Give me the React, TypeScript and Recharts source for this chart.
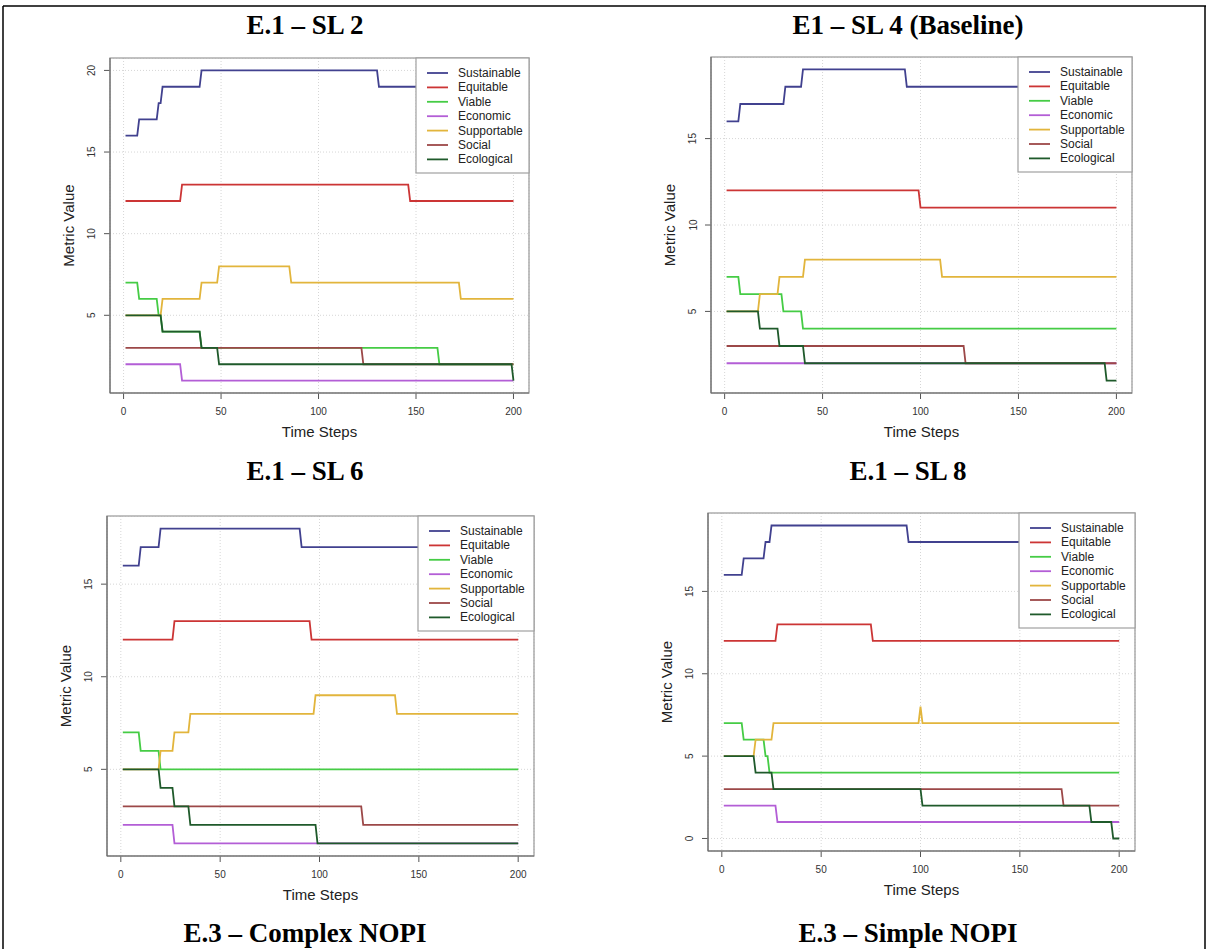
import React from "react";
import { LineChart, Line, XAxis, YAxis, CartesianGrid } from "recharts";

// [from step, to step, value] – a flat run of the metric
type Run = [number, number, number];

const SERIES = ["Sustainable", "Equitable", "Viable", "Economic", "Supportable", "Social", "Ecological"];
const COLORS = ["#41418f", "#cc3535", "#45cc45", "#b35ed6", "#e2b53c", "#9c4848", "#1f5a2b"];

const TIME_TICKS = [0, 50, 100, 150, 200];
const TIME_RANGE = [1, 200];

// ── E.1 – SL 2 ─────────────────────────────────────────────────────────────
const SL2_TICKS = [5, 10, 15, 20];
const SL2_SUSTAINABLE: Run[] = [[1, 7, 16], [8, 17, 17], [18, 19, 18], [20, 39, 19], [40, 130, 20], [131, 200, 19]];
const SL2_EQUITABLE: Run[] = [[1, 29, 12], [30, 146, 13], [147, 200, 12]];
const SL2_VIABLE: Run[] = [[1, 7, 7], [8, 17, 6], [18, 19, 5], [20, 39, 4], [40, 161, 3], [162, 200, 2]];
const SL2_ECONOMIC: Run[] = [[1, 29, 2], [30, 200, 1]];
const SL2_SUPPORTABLE: Run[] = [[1, 19, 5], [20, 39, 6], [40, 48, 7], [49, 85, 8], [86, 172, 7], [173, 200, 6]];
const SL2_SOCIAL: Run[] = [[1, 122, 3], [123, 200, 2]];
const SL2_ECOLOGICAL: Run[] = [[1, 19, 5], [20, 39, 4], [40, 48, 3], [49, 199, 2], [200, 200, 1]];

// ── E1 – SL 4 (Baseline) ───────────────────────────────────────────────────
const SL4_TICKS = [5, 10, 15];
const SL4_SUSTAINABLE: Run[] = [[1, 7, 16], [8, 30, 17], [31, 39, 18], [40, 92, 19], [93, 200, 18]];
const SL4_EQUITABLE: Run[] = [[1, 99, 12], [100, 200, 11]];
const SL4_VIABLE: Run[] = [[1, 7, 7], [8, 29, 6], [30, 39, 5], [40, 200, 4]];
const SL4_ECONOMIC: Run[] = [[1, 200, 2]];
const SL4_SUPPORTABLE: Run[] = [[1, 17, 5], [18, 27, 6], [28, 40, 7], [41, 110, 8], [111, 200, 7]];
const SL4_SOCIAL: Run[] = [[1, 122, 3], [123, 200, 2]];
const SL4_ECOLOGICAL: Run[] = [[1, 17, 5], [18, 27, 4], [28, 40, 3], [41, 194, 2], [195, 200, 1]];

// ── E.1 – SL 6 ─────────────────────────────────────────────────────────────
const SL6_TICKS = [5, 10, 15];
const SL6_SUSTAINABLE: Run[] = [[1, 9, 16], [10, 19, 17], [20, 90, 18], [91, 200, 17]];
const SL6_EQUITABLE: Run[] = [[1, 26, 12], [27, 95, 13], [96, 200, 12]];
const SL6_VIABLE: Run[] = [[1, 9, 7], [10, 19, 6], [20, 200, 5]];
const SL6_ECONOMIC: Run[] = [[1, 26, 2], [27, 200, 1]];
const SL6_SUPPORTABLE: Run[] = [[1, 19, 5], [20, 26, 6], [27, 34, 7], [35, 97, 8], [98, 138, 9], [139, 200, 8]];
const SL6_SOCIAL: Run[] = [[1, 121, 3], [122, 200, 2]];
const SL6_ECOLOGICAL: Run[] = [[1, 19, 5], [20, 26, 4], [27, 34, 3], [35, 98, 2], [99, 200, 1]];

// ── E.1 – SL 8 ─────────────────────────────────────────────────────────────
const SL8_TICKS = [0, 5, 10, 15];
const SL8_SUSTAINABLE: Run[] = [[1, 10, 16], [11, 21, 17], [22, 24, 18], [25, 93, 19], [94, 200, 18]];
const SL8_EQUITABLE: Run[] = [[1, 27, 12], [28, 75, 13], [76, 200, 12]];
const SL8_VIABLE: Run[] = [[1, 10, 7], [11, 21, 6], [22, 23, 5], [24, 200, 4]];
const SL8_ECONOMIC: Run[] = [[1, 27, 2], [28, 200, 1]];
const SL8_SUPPORTABLE: Run[] = [[1, 16, 5], [17, 25, 6], [26, 99, 7], [100, 100, 8], [101, 200, 7]];
const SL8_SOCIAL: Run[] = [[1, 171, 3], [172, 200, 2]];
const SL8_ECOLOGICAL: Run[] = [[1, 16, 5], [17, 25, 4], [26, 100, 3], [101, 185, 2], [186, 196, 1], [197, 200, 0]];

// ── Layout ─────────────────────────────────────────────────────────────────

interface PanelDef {
  title: string;
  titleX: number;
  titleY: number;
  box: { x: number; y: number; w: number; h: number };
  legendW: number;
  yTicks: number[];
  series: Run[][];
}

const PANELS: PanelDef[] = [
  {
    title: "E.1 – SL 2",
    titleX: 305,
    titleY: 34,
    box: { x: 110, y: 58, w: 419, h: 335 },
    legendW: 113,
    yTicks: SL2_TICKS,
    series: [SL2_SUSTAINABLE, SL2_EQUITABLE, SL2_VIABLE, SL2_ECONOMIC, SL2_SUPPORTABLE, SL2_SOCIAL, SL2_ECOLOGICAL],
  },
  {
    title: "E1 – SL 4 (Baseline)",
    titleX: 908,
    titleY: 34,
    box: { x: 711, y: 57, w: 421, h: 336 },
    legendW: 114,
    yTicks: SL4_TICKS,
    series: [SL4_SUSTAINABLE, SL4_EQUITABLE, SL4_VIABLE, SL4_ECONOMIC, SL4_SUPPORTABLE, SL4_SOCIAL, SL4_ECOLOGICAL],
  },
  {
    title: "E.1 – SL 6",
    titleX: 305,
    titleY: 480,
    box: { x: 107, y: 516, w: 427, h: 340 },
    legendW: 116,
    yTicks: SL6_TICKS,
    series: [SL6_SUSTAINABLE, SL6_EQUITABLE, SL6_VIABLE, SL6_ECONOMIC, SL6_SUPPORTABLE, SL6_SOCIAL, SL6_ECOLOGICAL],
  },
  {
    title: "E.1 – SL 8",
    titleX: 908,
    titleY: 480,
    box: { x: 708, y: 513, w: 427, h: 338 },
    legendW: 116,
    yTicks: SL8_TICKS,
    series: [SL8_SUSTAINABLE, SL8_EQUITABLE, SL8_VIABLE, SL8_ECONOMIC, SL8_SUPPORTABLE, SL8_SOCIAL, SL8_ECOLOGICAL],
  },
];

const CAPTIONS = [
  { text: "E.3 – Complex NOPI", x: 305 },
  { text: "E.3 – Simple NOPI", x: 908 },
];

const SANS = "'Liberation Sans', Arial, Helvetica, sans-serif";
const SERIF = "'Liberation Serif', 'Times New Roman', Times, serif";

const Y_AXIS_W = 50;
const X_AXIS_H = 30;
const RIGHT_PAD = 4;

function toPoints(runs: Run[]) {
  return runs.flatMap(([a, b, v]) => (a === b ? [{ t: a, v }] : [{ t: a, v }, { t: b, v }]));
}

const XTick = (props: any) => (
  <text x={props.x} y={props.y + 16} textAnchor="middle" fontSize={10} fill="#333" fontFamily={SANS}>
    {props.payload.value}
  </text>
);

const YTick = (props: any) => {
  const x = props.x - 12;
  return (
    <text
      x={x}
      y={props.y}
      transform={`rotate(-90 ${x} ${props.y})`}
      textAnchor="middle"
      dominantBaseline="central"
      fontSize={10}
      fill="#333"
      fontFamily={SANS}
    >
      {props.payload.value}
    </text>
  );
};

function Panel({ p }: { p: PanelDef }) {
  const { box } = p;
  const values = p.series.flat().map((r) => r[2]);
  const lo = Math.min(...values);
  const hi = Math.max(...values);
  const yPad = (hi - lo) * 0.04;
  const xPad = (TIME_RANGE[1] - TIME_RANGE[0]) * 0.04;

  return (
    <div style={{ position: "absolute", left: box.x - Y_AXIS_W, top: box.y }}>
      <LineChart
        width={box.w + Y_AXIS_W + RIGHT_PAD}
        height={box.h + X_AXIS_H}
        margin={{ top: 0, right: RIGHT_PAD, bottom: 0, left: 0 }}
      >
        <CartesianGrid stroke="#d6d6d6" strokeDasharray="1 2" />
        <XAxis
          dataKey="t"
          type="number"
          domain={[TIME_RANGE[0] - xPad, TIME_RANGE[1] + xPad]}
          ticks={TIME_TICKS}
          interval={0}
          allowDataOverflow
          height={X_AXIS_H}
          axisLine={false}
          tickSize={6}
          tickMargin={0}
          tickLine={{ stroke: "#555" }}
          tick={XTick}
        />
        <YAxis
          type="number"
          domain={[lo - yPad, hi + yPad]}
          ticks={p.yTicks}
          interval={0}
          allowDataOverflow
          width={Y_AXIS_W}
          axisLine={false}
          tickSize={6}
          tickMargin={0}
          tickLine={{ stroke: "#555" }}
          tick={YTick}
        />
        {p.series.map((runs, i) => (
          <Line
            key={SERIES[i]}
            name={SERIES[i]}
            data={toPoints(runs)}
            dataKey="v"
            type="linear"
            stroke={COLORS[i]}
            strokeWidth={1.8}
            dot={false}
            activeDot={false}
            isAnimationActive={false}
          />
        ))}
      </LineChart>
    </div>
  );
}

function Decorations() {
  return (
    <svg
      width={1209}
      height={949}
      style={{ position: "absolute", left: 0, top: 0, pointerEvents: "none" }}
    >
      {/* table border */}
      <line x1={3} y1={6} x2={1206} y2={6} stroke="#000" strokeWidth={1.5} />
      <line x1={3} y1={6} x2={3} y2={949} stroke="#000" strokeWidth={1.5} />
      <line x1={1205} y1={6} x2={1205} y2={949} stroke="#000" strokeWidth={1.5} />

      {PANELS.map((p) => {
        const { box } = p;
        const lx = box.x + box.w - p.legendW;
        return (
          <g key={p.title}>
            <text x={p.titleX} y={p.titleY} textAnchor="middle" fontSize={27} fontWeight="bold" fontFamily={SERIF} fill="#000">
              {p.title}
            </text>
            <rect x={box.x} y={box.y} width={box.w} height={box.h} fill="none" stroke="#a0a0a0" strokeWidth={1.3} />
            <line x1={box.x} y1={box.y} x2={box.x} y2={box.y + box.h} stroke="#666" strokeWidth={1.1} />
            <line x1={box.x} y1={box.y + box.h} x2={box.x + box.w} y2={box.y + box.h} stroke="#666" strokeWidth={1.1} />
            <text
              transform={`translate(${box.x - 42},${box.y + box.h / 2}) rotate(-90)`}
              textAnchor="middle"
              dominantBaseline="central"
              fontSize={15}
              fontFamily={SANS}
              fill="#222"
            >
              Metric Value
            </text>
            <text x={box.x + box.w / 2} y={box.y + box.h + 44} textAnchor="middle" fontSize={15} fontFamily={SANS} fill="#222">
              Time Steps
            </text>
            {/* legend */}
            <rect x={lx} y={box.y} width={p.legendW} height={115} fill="#fff" stroke="#a0a0a0" strokeWidth={1.2} />
            {SERIES.map((name, i) => {
              const y = box.y + 15 + i * 14.4;
              return (
                <g key={name}>
                  <line x1={lx + 11} y1={y} x2={lx + 32} y2={y} stroke={COLORS[i]} strokeWidth={1.8} />
                  <text x={lx + 42} y={y} dominantBaseline="central" fontSize={12} fontFamily={SANS} fill="#222">
                    {name}
                  </text>
                </g>
              );
            })}
          </g>
        );
      })}

      {CAPTIONS.map((c) => (
        <text key={c.text} x={c.x} y={942} textAnchor="middle" fontSize={27} fontWeight="bold" fontFamily={SERIF} fill="#000">
          {c.text}
        </text>
      ))}
    </svg>
  );
}

export default function App() {
  return (
    <div style={{ position: "absolute", left: 0, top: 0, width: 1209, height: 949, background: "#fff", overflow: "hidden" }}>
      {PANELS.map((p) => (
        <Panel key={p.title} p={p} />
      ))}
      <Decorations />
    </div>
  );
}
